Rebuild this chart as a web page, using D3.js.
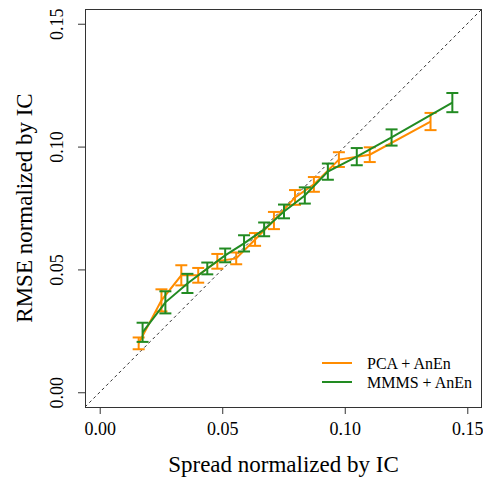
<!DOCTYPE html>
<html>
<head>
<meta charset="utf-8">
<script src="https://cdn.jsdelivr.net/npm/d3@7"></script>
<style>
  body { margin: 0; background: #fff; }
  svg, svg text { font-family: "Liberation Serif", "Times New Roman", serif; }
  svg { display: block; }
</style>
</head>
<body>
<div id="chart"></div>
<script>
// spread (x), rmse (y), error half-width
const pcaSpread = [0.0159, 0.0252, 0.0333, 0.0402, 0.0480, 0.0557, 0.0634, 0.0711, 0.0797, 0.0874, 0.0976, 0.1102, 0.1350];
const pcaRmse   = [0.0199, 0.0374, 0.0476, 0.0476, 0.0533, 0.0545, 0.0622, 0.0699, 0.0793, 0.0846, 0.0947, 0.0967, 0.1102];
const pcaErr    = [0.0024, 0.0045, 0.0041, 0.0030, 0.0030, 0.0024, 0.0026, 0.0035, 0.0030, 0.0030, 0.0030, 0.0030, 0.0035];

const mmmsSpread = [0.0175, 0.0268, 0.0358, 0.0439, 0.0512, 0.0589, 0.0671, 0.0752, 0.0837, 0.0931, 0.1049, 0.1191, 0.1439];
const mmmsRmse   = [0.0244, 0.0366, 0.0443, 0.0504, 0.0557, 0.0606, 0.0663, 0.0736, 0.0801, 0.0898, 0.0959, 0.1037, 0.1179];
const mmmsErr    = [0.0039, 0.0045, 0.0039, 0.0024, 0.0028, 0.0033, 0.0028, 0.0028, 0.0033, 0.0033, 0.0035, 0.0033, 0.0039];

const tickValues = [0, 0.05, 0.10, 0.15];
const seriesNames = ["PCA + AnEn", "MMMS + AnEn"];
const seriesColors = ["#ff8c00", "#228b22"];

const width = 483, height = 480;
const margin = {top: 9, right: 1, bottom: 73, left: 85};

const svg = d3.select("#chart").append("svg")
    .attr("width", width)
    .attr("height", height);

// R style limits: 0..0.15 with 4% padding
const lim = [-0.006, 0.156];
const x = d3.scaleLinear().domain(lim).range([margin.left, width - margin.right]);
const y = d3.scaleLinear().domain(lim).range([height - margin.bottom, margin.top]);

const fmt = d3.format(".2f");

// diagonal 1:1 line
svg.append("line")
    .attr("x1", x(lim[0])).attr("y1", y(lim[0]))
    .attr("x2", x(lim[1])).attr("y2", y(lim[1]))
    .attr("stroke", "#333")
    .attr("stroke-width", 1)
    .attr("stroke-dasharray", "3,3");

const series = [
  {name: seriesNames[0], color: seriesColors[0], xs: pcaSpread, ys: pcaRmse, es: pcaErr},
  {name: seriesNames[1], color: seriesColors[1], xs: mmmsSpread, ys: mmmsRmse, es: mmmsErr}
];

const line = d3.line().x(d => x(d.x)).y(d => y(d.y));

series.forEach(s => {
  const pts = s.xs.map((v, i) => ({x: v, y: s.ys[i], e: s.es[i]}));
  const g = svg.append("g")
      .attr("stroke", s.color)
      .attr("stroke-width", 2)
      .attr("fill", "none");

  g.append("path").attr("d", line(pts));

  const bars = g.selectAll("g.bar").data(pts).join("g").attr("class", "bar");
  bars.append("line")
      .attr("x1", d => x(d.x)).attr("x2", d => x(d.x))
      .attr("y1", d => y(d.y - d.e)).attr("y2", d => y(d.y + d.e));
  bars.append("line")
      .attr("x1", d => x(d.x) - 6).attr("x2", d => x(d.x) + 6)
      .attr("y1", d => y(d.y + d.e)).attr("y2", d => y(d.y + d.e));
  bars.append("line")
      .attr("x1", d => x(d.x) - 6).attr("x2", d => x(d.x) + 6)
      .attr("y1", d => y(d.y - d.e)).attr("y2", d => y(d.y - d.e));
});

// box
svg.append("rect")
    .attr("x", margin.left + 0.5).attr("y", margin.top + 0.5)
    .attr("width", width - margin.left - margin.right - 1)
    .attr("height", height - margin.top - margin.bottom)
    .attr("fill", "none")
    .attr("stroke", "#333");

// axes
const xAxis = svg.append("g")
    .attr("transform", `translate(0,${height - margin.bottom})`)
    .call(d3.axisBottom(x).tickValues(tickValues).tickFormat(fmt).tickSize(7).tickPadding(8))
    .attr("font-family", null).attr("font-size", null);
xAxis.select(".domain").remove();
xAxis.selectAll("text")
    .style("font-family", "'Liberation Serif', 'Times New Roman', serif")
    .attr("font-size", 18).attr("fill", "#000");
xAxis.selectAll("line").attr("stroke", "#333");

const yAxis = svg.append("g")
    .attr("transform", `translate(${margin.left},0)`)
    .call(d3.axisLeft(y).tickValues(tickValues).tickFormat(fmt).tickSize(7))
    .attr("font-family", null).attr("font-size", null);
yAxis.select(".domain").remove();
yAxis.selectAll("line").attr("stroke", "#333");
yAxis.selectAll("text")
    .style("font-family", "'Liberation Serif', 'Times New Roman', serif")
    .attr("font-size", 18).attr("fill", "#000")
    .attr("x", null).attr("dy", null)
    .attr("text-anchor", "middle")
    .attr("transform", "translate(-22,0) rotate(-90)");

// axis titles
svg.append("text")
    .attr("x", (margin.left + width - margin.right) / 2)
    .attr("y", 472)
    .attr("text-anchor", "middle")
    .attr("font-size", 23)
    .text("Spread normalized by IC");

svg.append("text")
    .attr("transform", `translate(32,${(margin.top + height - margin.bottom) / 2}) rotate(-90)`)
    .attr("text-anchor", "middle")
    .attr("font-size", 23)
    .text("RMSE normalized by IC");

// legend
const legend = svg.append("g").attr("transform", "translate(322,363)");
series.forEach((s, i) => {
  const row = legend.append("g").attr("transform", `translate(0,${i * 19})`);
  row.append("line")
      .attr("x1", 0).attr("x2", 30)
      .attr("stroke", s.color).attr("stroke-width", 2);
  row.append("text")
      .attr("x", 45).attr("y", 5.5)
      .attr("font-size", 16)
      .text(s.name);
});
</script>
</body>
</html>
